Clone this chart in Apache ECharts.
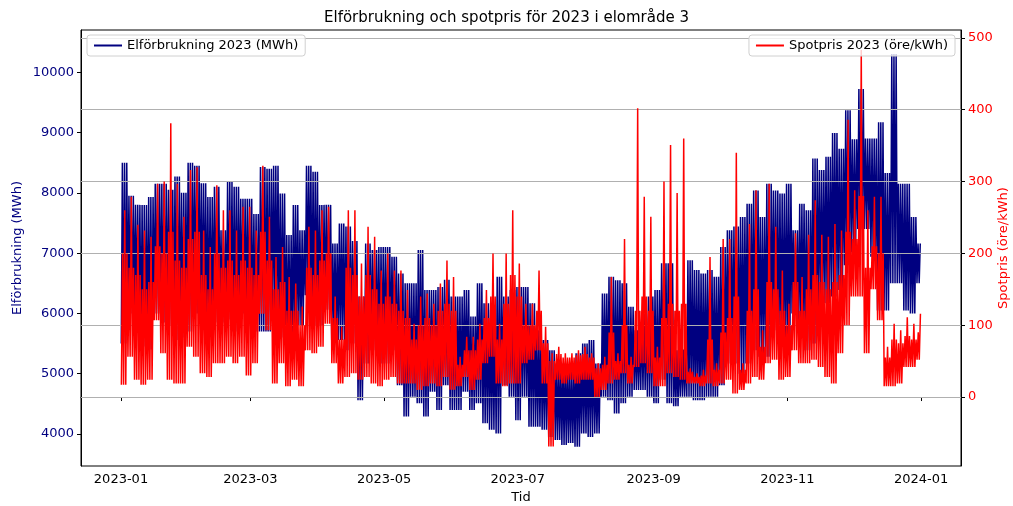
<!DOCTYPE html>
<html>
<head>
<meta charset="utf-8">
<script src="https://cdn.jsdelivr.net/npm/echarts@6/dist/echarts.min.js"></script>
<style>
  html, body { margin: 0; padding: 0; background: #fff; }
  #chart { width: 1013px; height: 506px; }
</style>
</head>
<body>
<div id="chart"></div>
<script>
// Data, per 3-day block of 2023
const BLOCK_DAYS = 3;

// Elförbrukning (MWh), block highs and lows
const consHigh = [
  8500, 7950, 7800, 7800, 7930, 8150, 8150, 8050, 8270, 8000,
  8500, 8450, 8160, 7930, 8100, 7380, 8180, 8100, 7900, 7900,
  7650, 8430, 8400, 8450, 7990, 7300, 7800, 7380, 8450, 8350,
  7800, 7800, 7160, 7490, 7440, 7200, 6280, 7160, 7050, 7100,
  7100, 6940, 6660, 6500, 6500, 7050, 6390, 6390, 6440, 6560,
  6280, 6280, 6390, 5950, 6500, 6170, 6060, 6610, 6280, 6390,
  6440, 6440, 6170, 5720, 5560, 5390, 5170, 5170, 5120, 5340,
  5500, 5560, 5170, 6330, 6610, 6550, 6500, 6110, 5720, 6000,
  6280, 6390, 6830, 6830, 5390, 5400, 6880, 6720, 6660, 6720,
  6610, 7100, 7380, 7440, 7600, 7820, 8040, 7600, 8150, 8040,
  7990, 8150, 7380, 7820, 7710, 8570, 8380, 8600, 8990, 8730,
  9370, 8890, 9720, 8900, 8900, 9170, 8330, 10300, 8150, 8150,
  7600, 7160
];
const consLow = [
  5500, 6000, 6000, 5450, 5400, 6000, 5850, 5800, 5560, 5600,
  5700, 6000, 5900, 5700, 5850, 5850, 5900, 5700, 6000, 5800,
  5700, 5700, 5700, 6000, 5600, 5450, 5560, 5800, 6300, 5800,
  5800, 6060, 5560, 5560, 5390, 5500, 4560, 5170, 5390, 5170,
  5170, 5390, 4810, 4290, 4620, 4510, 4290, 4700, 4400, 4810,
  4400, 4400, 4700, 4400, 4510, 4180, 4070, 4010, 4810, 4620,
  4230, 4620, 4120, 4120, 4070, 3950, 3900, 3820, 3850, 3790,
  4010, 3950, 4010, 4620, 4560, 4340, 4510, 4620, 4730, 4730,
  4620, 4510, 4900, 4510, 4460, 4620, 4620, 4560, 4560, 4620,
  4620, 4810, 5170, 5170, 5000, 5170, 5390, 5280, 5280, 5720,
  5500, 5390, 6000, 5720, 5390, 5500, 6110, 6170, 6280, 6390,
  6800, 7010, 7400, 7400, 6940, 6050, 6050, 6500, 6500, 6050,
  6000, 6500
];

// Spotpris (öre/kWh): block peak, typical daily top and block low
const priceHigh = [
  260, 279, 240, 232, 223, 297, 300, 381, 297, 251,
  316, 320, 232, 209, 295, 260, 260, 232, 265, 265,
  232, 322, 251, 195, 209, 167, 158, 126, 237, 232,
  260, 265, 140, 98, 260, 260, 186, 237, 223, 176,
  200, 176, 176, 149, 102, 140, 144, 130, 158, 190,
  167, 56, 84, 84, 102, 149, 200, 102, 200, 260,
  186, 130, 130, 176, 98, 61, 70, 61, 61, 65,
  70, 61, 47, 56, 167, 61, 220, 56, 402, 279,
  251, 70, 300, 351, 284, 360, 40, 33, 38, 195,
  47, 220, 220, 340, 47, 241, 288, 93, 297, 237,
  176, 130, 228, 167, 226, 274, 226, 223, 241, 232,
  386, 288, 483, 260, 279, 279, 70, 102, 93, 111,
  102, 116
];
const priceMid = [
  200, 180, 170, 150, 160, 210, 200, 230, 190, 180,
  220, 230, 170, 150, 200, 180, 190, 170, 190, 180,
  170, 230, 190, 150, 160, 120, 120, 100, 180, 170,
  190, 200, 110, 80, 180, 170, 140, 170, 150, 130,
  140, 130, 120, 110, 80, 100, 110, 100, 120, 130,
  120, 45, 65, 65, 80, 110, 140, 80, 130, 170,
  140, 100, 100, 120, 75, 50, 60, 55, 55, 58,
  60, 55, 40, 45, 90, 50, 100, 45, 120, 140,
  120, 55, 110, 130, 120, 130, 35, 28, 30, 80,
  38, 90, 110, 140, 38, 120, 150, 70, 160, 150,
  120, 100, 160, 120, 150, 170, 160, 150, 160, 170,
  230, 220, 280, 180, 210, 200, 55, 80, 75, 85,
  80, 90
];
const priceLow = [
  17, 56, 24, 17, 24, 107, 61, 24, 19, 19,
  70, 56, 33, 28, 47, 47, 56, 47, 56, 30,
  47, 116, 93, 19, 47, 15, 24, 15, 65, 61,
  70, 102, 47, 19, 28, 33, 24, 28, 19, 15,
  24, 28, 19, 19, 19, 10, 15, 19, 15, 28,
  10, 15, 28, 10, 24, 47, 56, 19, 15, 19,
  19, 47, 52, 65, 19, -69, 24, 19, 24, 19,
  24, 24, 0, 10, 19, 24, 33, 19, 42, 47,
  33, 15, 15, 33, 28, 24, 19, 19, 15, 19,
  15, 19, 24, 5, 10, 19, 28, 24, 47, 52,
  24, 28, 65, 47, 47, 52, 42, 28, 19, 61,
  100, 140, 140, 61, 150, 107, 15, 15, 19, 42,
  42, 52
];

// x-axis tick labels (every second month)
const xTickLabels = ['2023-01', '2023-03', '2023-05', '2023-07', '2023-09', '2023-11', '2024-01'];
const consTicks = [4000, 5000, 6000, 7000, 8000, 9000, 10000];
const priceTicks = [0, 100, 200, 300, 400, 500];

const DAY = 86400000;
const HOUR = 3600000;
const T0 = Date.UTC(2023, 0, 1);

function tickTime(label) {
    const parts = label.split('-');
    return Date.UTC(+parts[0], +parts[1] - 1, 1);
}

function pad2(n) {
    return (n < 10 ? '0' : '') + n;
}

// every day of a block swings from the block low up to a daily top,
// like the day/night cycle of the hourly trace;
// tops gives, per day of the block, which array that day reaches
function buildSeries(lows, tops, lowHour, highHour) {
    const out = [];
    const n = lows.length;
    for (let k = 0; k < n; k++) {
        for (let j = 0; j < BLOCK_DAYS; j++) {
            const day = k * BLOCK_DAYS + j;
            if (day > 364) break;
            out.push([T0 + day * DAY + lowHour * HOUR, lows[k]]);
            out.push([T0 + day * DAY + highHour * HOUR, tops[j][k]]);
        }
    }
    return out;
}

const consData = buildSeries(consLow, [consHigh, consHigh, consHigh], 3, 15);
const priceData = buildSeries(priceLow, [priceMid, priceHigh, priceMid], 4, 17);

const FONT = 'DejaVu Sans';
const NAVY = '#000080';
const RED = '#ff0000';

const chart = echarts.init(document.getElementById('chart'), null, { renderer: 'canvas' });

chart.setOption({
    animation: false,
    backgroundColor: '#fff',
    textStyle: { fontFamily: FONT },
    title: {
        text: 'Elförbrukning och spotpris för 2023 i elområde 3',
        left: 'center',
        top: 6,
        textStyle: { fontFamily: FONT, fontSize: 15, fontWeight: 'normal', color: '#000' }
    },
    legend: [
        {
            data: ['Elförbrukning 2023 (MWh)'],
            left: 87,
            top: 35,
            padding: [4, 7],
            itemWidth: 28,
            itemHeight: 2,
            icon: 'rect',
            borderColor: '#d0d0d0',
            borderWidth: 1,
            borderRadius: 3,
            backgroundColor: 'rgba(255,255,255,0.8)',
            textStyle: { fontFamily: FONT, fontSize: 13, color: '#000' },
            z: 10
        },
        {
            data: ['Spotpris 2023 (öre/kWh)'],
            right: 58,
            top: 35,
            padding: [4, 7],
            itemWidth: 28,
            itemHeight: 2,
            icon: 'rect',
            borderColor: '#d0d0d0',
            borderWidth: 1,
            borderRadius: 3,
            backgroundColor: 'rgba(255,255,255,0.8)',
            textStyle: { fontFamily: FONT, fontSize: 13, color: '#000' },
            z: 10
        }
    ],
    grid: {
        left: 81,
        top: 30,
        width: 880,
        height: 436,
        containLabel: false,
        outerBoundsMode: 'none',
        show: true,
        borderColor: '#000',
        borderWidth: 1,
        backgroundColor: 'transparent'
    },
    xAxis: {
        type: 'value',
        min: T0 - 18.25 * DAY,
        max: T0 + 364.96 * DAY + 18.25 * DAY,
        name: 'Tid',
        nameLocation: 'middle',
        nameGap: 25,
        nameMoveOverlap: false,
        nameTextStyle: { fontFamily: FONT, fontSize: 13, color: '#000' },
        axisLine: { show: true, lineStyle: { color: '#000', width: 1 } },
        axisTick: {
            show: true, length: 4, lineStyle: { color: '#000' },
            customValues: xTickLabels.map(tickTime)
        },
        axisLabel: {
            fontFamily: FONT, fontSize: 13, color: '#000', margin: 7,
            customValues: xTickLabels.map(tickTime),
            formatter: function (v) {
                const d = new Date(v);
                return d.getUTCFullYear() + '-' + pad2(d.getUTCMonth() + 1);
            }
        },
        splitLine: { show: false }
    },
    yAxis: [
        {
            type: 'value',
            position: 'left',
            min: 3470,
            max: 10700,
            name: 'Elförbrukning (MWh)',
            nameLocation: 'middle',
            nameGap: 57,
            nameMoveOverlap: false,
            nameTextStyle: { fontFamily: FONT, fontSize: 13, color: NAVY },
            axisLine: { show: true, lineStyle: { color: '#000', width: 1 } },
            axisTick: { show: true, length: 4, lineStyle: { color: '#000' }, customValues: consTicks },
            axisLabel: {
                fontFamily: FONT, fontSize: 13, color: NAVY, margin: 7, customValues: consTicks,
                formatter: function (v) { return String(v); }
            },
            splitLine: { show: false }
        },
        {
            // grid lines of the twin axis sit above the consumption trace, below the price
            type: 'value',
            position: 'right',
            z: 2.5,
            min: -96,
            max: 511,
            name: 'Spotpris (öre/kWh)',
            nameLocation: 'middle',
            nameGap: 36,
            nameMoveOverlap: false,
            nameTextStyle: { fontFamily: FONT, fontSize: 13, color: RED },
            axisLine: { show: true, lineStyle: { color: '#000', width: 1 } },
            axisTick: { show: true, length: 4, lineStyle: { color: '#000' }, customValues: priceTicks },
            axisLabel: {
                fontFamily: FONT, fontSize: 13, color: RED, margin: 7, customValues: priceTicks,
                formatter: function (v) { return String(v); }
            },
            splitLine: { show: true, lineStyle: { color: '#b0b0b0', width: 1 } }
        }
    ],
    series: [
        {
            name: 'Elförbrukning 2023 (MWh)',
            type: 'line',
            yAxisIndex: 0,
            data: consData,
            showSymbol: false,
            sampling: null,
            color: NAVY,
            lineStyle: { color: NAVY, width: 1.5 },
            z: 2
        },
        {
            name: 'Spotpris 2023 (öre/kWh)',
            type: 'line',
            yAxisIndex: 1,
            data: priceData,
            showSymbol: false,
            sampling: null,
            color: RED,
            lineStyle: { color: RED, width: 1.5 },
            z: 3
        }
    ]
});
</script>
</body>
</html>
